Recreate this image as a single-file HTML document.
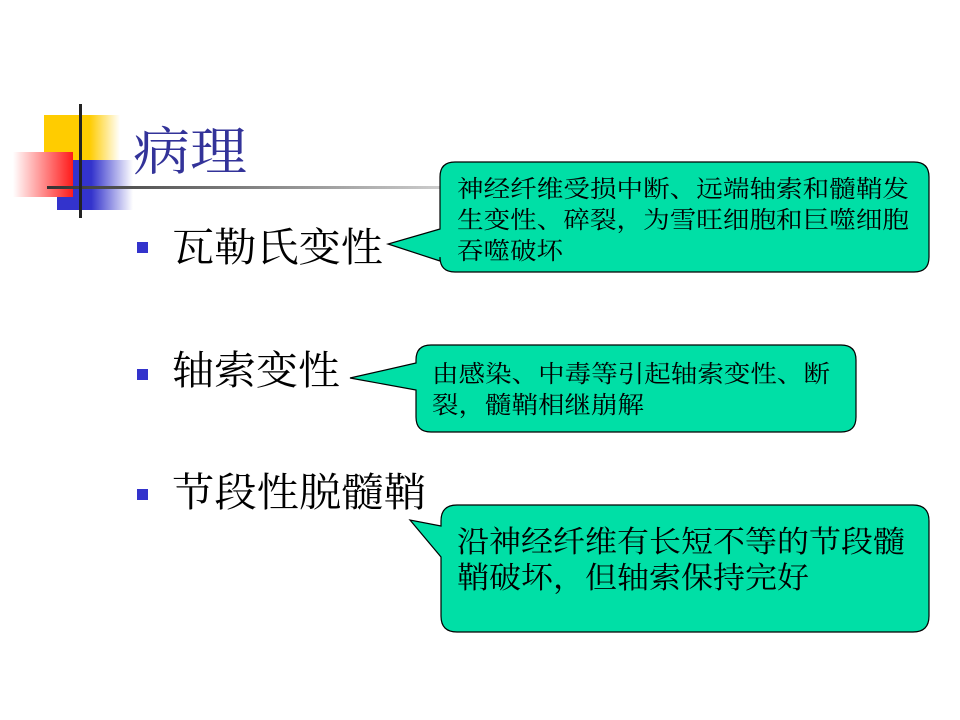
<!DOCTYPE html>
<html><head><meta charset="utf-8"><style>
html,body{margin:0;padding:0;background:#fff;}
svg{display:block;}
text{font-family:"Liberation Serif","Noto Serif CJK SC","Noto Sans CJK SC",serif;}
</style></head><body>
<svg width="960" height="720" viewBox="0 0 960 720" xmlns="http://www.w3.org/2000/svg">
<defs>
<linearGradient id="gy" x1="0" x2="1"><stop offset="0" stop-color="#ffcc00"/><stop offset="0.6" stop-color="#ffcc00"/><stop offset="1" stop-color="#fff"/></linearGradient>
<linearGradient id="gb" x1="0" x2="1"><stop offset="0" stop-color="#3333cc"/><stop offset="0.45" stop-color="#3333cc"/><stop offset="1" stop-color="#fff"/></linearGradient>
<linearGradient id="gr" x1="1" x2="0"><stop offset="0" stop-color="#ff1a1a"/><stop offset="1" stop-color="#fff"/></linearGradient>
<linearGradient id="gl" x1="0" x2="1"><stop offset="0" stop-color="#333"/><stop offset="1" stop-color="#ccc"/></linearGradient>
</defs>
<rect x="44" y="115" width="76" height="50" fill="url(#gy)"/>
<rect x="57" y="160" width="76" height="50" fill="url(#gb)"/>
<rect x="13" y="152" width="60" height="45" fill="url(#gr)"/>
<rect x="47" y="186" width="393" height="3" fill="url(#gl)"/>
<rect x="79" y="104" width="3" height="114" fill="#222"/>
<text x="133" y="170" font-size="52" fill="#333399" textLength="114" lengthAdjust="spacingAndGlyphs">病理</text>
<rect x="137" y="242" width="11" height="11" fill="#3333cc"/>
<text x="172" y="261" font-size="40" fill="#000" textLength="211" lengthAdjust="spacingAndGlyphs">瓦勒氏变性</text>
<rect x="137" y="369" width="11" height="11" fill="#3333cc"/>
<text x="172" y="384" font-size="40" fill="#000" textLength="168" lengthAdjust="spacingAndGlyphs">轴索变性</text>
<rect x="137" y="489" width="11" height="11" fill="#3333cc"/>
<text x="172" y="506" font-size="40" fill="#000" textLength="254" lengthAdjust="spacingAndGlyphs">节段性脱髓鞘</text>

<path d="M455,162 H914 Q929,162 929,177 V257 Q929,272 914,272 H455 Q440,272 440,257 V261 L388,244 L440,229 V177 Q440,162 455,162 Z" fill="#00dfa6" stroke="#000" stroke-width="1.2"/>
<text font-size="24" fill="#000"><tspan x="457" y="197" textLength="452" lengthAdjust="spacingAndGlyphs">神经纤维受损中断、远端轴索和髓鞘发</tspan><tspan x="457" y="228" textLength="452" lengthAdjust="spacingAndGlyphs">生变性、碎裂，为雪旺细胞和巨噬细胞</tspan><tspan x="457" y="259" textLength="106" lengthAdjust="spacingAndGlyphs">吞噬破坏</tspan></text>

<path d="M431,345 H841 Q856,345 856,360 V417 Q856,432 841,432 H431 Q416,432 416,417 V390 L350,378 L416,363 V360 Q416,345 431,345 Z" fill="#00dfa6" stroke="#000" stroke-width="1.2"/>
<text font-size="24" fill="#000"><tspan x="432" y="382" textLength="398" lengthAdjust="spacingAndGlyphs">由感染、中毒等引起轴索变性、断</tspan><tspan x="432" y="413" textLength="212" lengthAdjust="spacingAndGlyphs">裂，髓鞘相继崩解</tspan></text>

<path d="M457,505 H913 Q929,505 929,521 V616 Q929,632 913,632 H457 Q441,632 441,616 V557 L410,520 L441,526 V521 Q441,505 457,505 Z" fill="#00dfa6" stroke="#000" stroke-width="1.2"/>
<text font-size="30" fill="#000"><tspan x="457" y="552" textLength="448" lengthAdjust="spacingAndGlyphs">沿神经纤维有长短不等的节段髓</tspan><tspan x="457" y="588" textLength="352" lengthAdjust="spacingAndGlyphs">鞘破坏，但轴索保持完好</tspan></text>
</svg>
</body></html>
